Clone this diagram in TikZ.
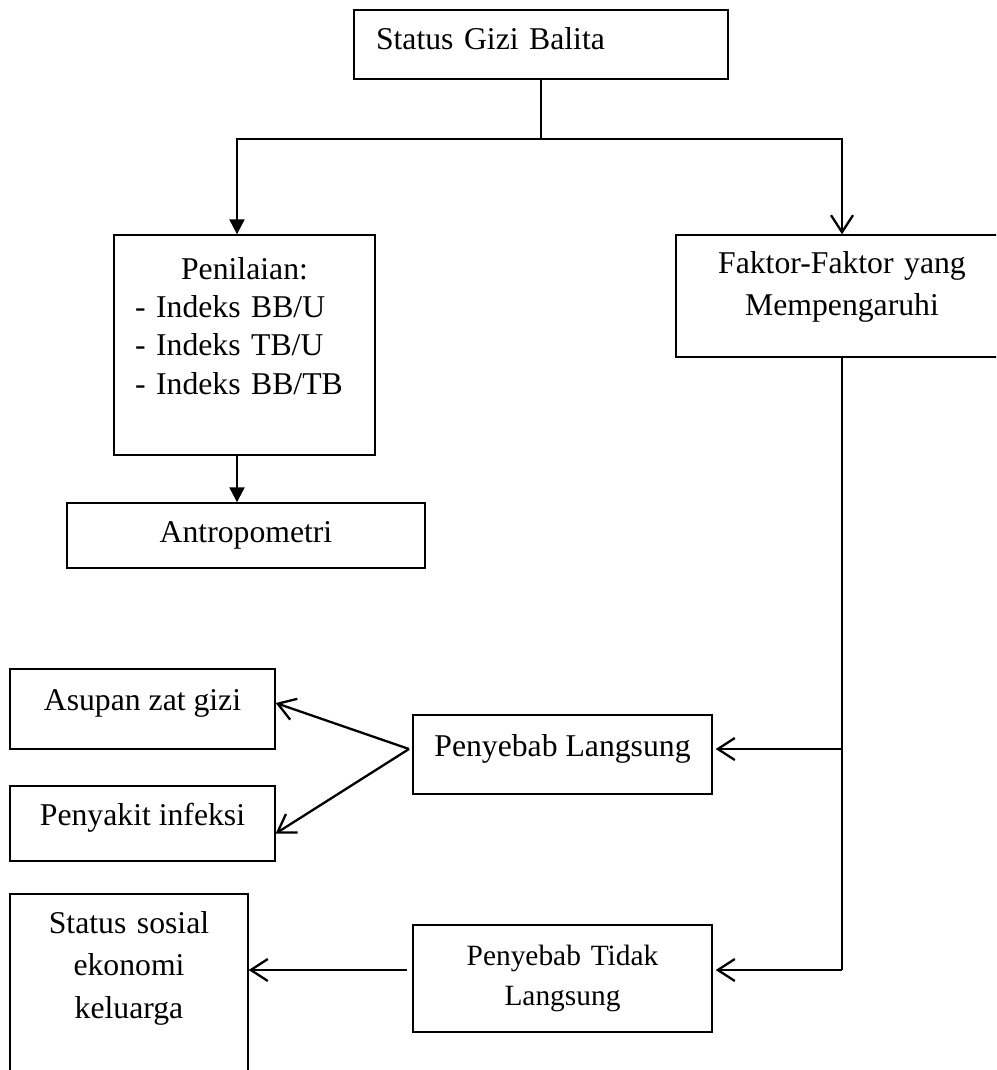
\documentclass[tikz,border=0pt]{standalone}
\usepackage{fontspec}
\setmainfont{Liberation Serif}
\usetikzlibrary{arrows.meta}
\begin{document}
\begin{tikzpicture}[x=1pt,y=-1pt]
    \tikzset{
        box/.style={draw, line width=1.4pt, inner sep=0pt, align=center,
            font=\fontsize{31.7}{42}\selectfont},
        link/.style={line width=2.3pt},
        fillarrow/.style={link, -{Triangle[length=15pt,width=15pt]}},
        openarrow/.style={link, -{Straight Barb[length=17pt,width=22pt]}}
    }
    \clip (0,0) rectangle (996,1070);
    \draw node[box, minimum width=374pt, minimum height=69pt, text width=330pt, align=left, text depth=11pt] (status) at (541,44.5) {Status Gizi Balita};
    \draw node[box, minimum width=261pt, minimum height=220pt, text width=219pt, align=left, font=\fontsize{31.7}{38.3}\selectfont] (penilaian) at (244.5,345) {\makebox[219pt]{Penilaian:}\\- Indeks BB/U\\- Indeks TB/U\\- Indeks BB/TB\\\mbox{}};
    \draw node[box, minimum width=358pt, minimum height=65pt] (antro) at (246,535.5) {Antropometri};
    \draw node[box, minimum width=332pt, minimum height=122pt, text width=300pt] (faktor) at (842,296) {Faktor-Faktor yang\\Mempengaruhi\\[-18pt]\mbox{}};
    \draw node[box, minimum width=265pt, minimum height=80pt, text depth=18pt] (asupan) at (142.5,709) {Asupan zat gizi};
    \draw node[box, minimum width=265pt, minimum height=75pt, text depth=18pt] (infeksi) at (142.5,823.5) {Penyakit infeksi};
    \draw node[box, minimum width=299pt, minimum height=79pt, text depth=18pt] (langsung) at (562.5,754.5) {Penyebab Langsung};
    \draw node[box, minimum width=299pt, minimum height=107pt, text width=270pt, font=\fontsize{29.4}{40}\selectfont] (tidak) at (562.5,978.5) {Penyebab Tidak\\Langsung};
    \draw node[box, minimum width=238pt, minimum height=226pt, text width=220pt, font=\fontsize{31.7}{42.5}\selectfont] (sosial) at (129,1007) {Status sosial\\ekonomi\\keluarga\\\mbox{}\\\mbox{}};

    \coordinate (split) at (541,139);
    \coordinate (j1) at (842,749);
    \coordinate (j2) at (842,970);
    \coordinate (fan) at (409,749);
    \coordinate (back) at (407,970);

    \draw[line width=1.4pt] (status) -- (split);
    \draw[fillarrow] (split) -| ([xshift=-7.5pt]penilaian.north);
    \draw[openarrow] (split) -| (faktor.north);
    \draw[fillarrow] ([xshift=-7.5pt]penilaian.south) -- ([xshift=-7.5pt]penilaian.south |- antro.north);
    \draw[line width=1.7pt] (faktor) -- (j2);
    \draw[openarrow] (j1) -- ([xshift=3pt]j1 -| langsung.east);
    \draw[openarrow] (j2) -- ([xshift=3pt]j2 -| tidak.east);
    \foreach \x/\y in {%
        asupan/6pt,infeksi/-10pt%
    }
    {
        \draw[openarrow] (fan) -- ([yshift=\y]\x.east);
    }
    \draw[openarrow] (back) -- (back -| sosial.east);
\end{tikzpicture}
\end{document}
